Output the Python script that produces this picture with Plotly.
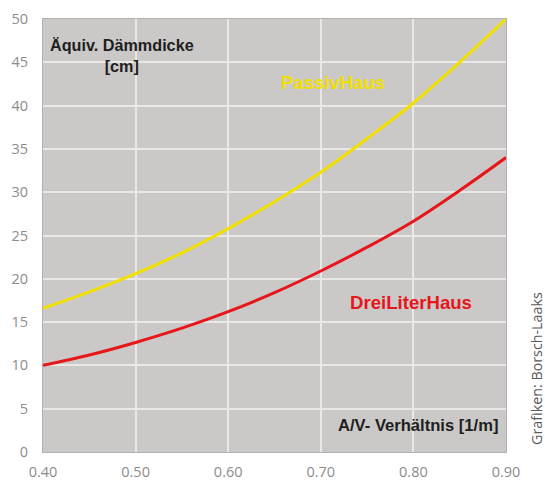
import plotly.graph_objects as go

# Data
av_ratio = [0.40, 0.45, 0.50, 0.55, 0.60, 0.65, 0.70, 0.75, 0.80, 0.85, 0.90]
passivhaus = [16.6, 18.5, 20.6, 23.0, 25.8, 28.9, 32.3, 36.2, 40.3, 45.0, 50.0]
dreiliterhaus = [10.0, 11.2, 12.65, 14.3, 16.2, 18.4, 20.9, 23.65, 26.65, 30.2, 34.0]

x_ticks = [0.40, 0.50, 0.60, 0.70, 0.80, 0.90]
x_ticktext = ["0.40", "0.50", "0.60", "0.70", "0.80", "0.90"]
y_ticks = [0, 5, 10, 15, 20, 25, 30, 35, 40, 45, 50]

BG = "#cbc9c8"
GRID = "#e9e8e7"
YELLOW = "#f2e000"
RED = "#e8161a"
DARK = "#1e1e1e"

W, H = 545, 482
L, R, T, B = 43, 38.5, 19, 30
PW, PH = W - L - R, H - T - B

def px(xp):
    return (xp - L) / PW

def py(yp):
    return (H - B - yp) / PH

fig = go.Figure()
fig.add_trace(go.Scatter(x=av_ratio, y=passivhaus, mode="lines",
                         line=dict(color=YELLOW, width=3, shape="spline"),
                         name="PassivHaus", hoverinfo="skip"))
fig.add_trace(go.Scatter(x=av_ratio, y=dreiliterhaus, mode="lines",
                         line=dict(color=RED, width=3, shape="spline"),
                         name="DreiLiterHaus", hoverinfo="skip"))

tickfont = dict(family="Open Sans", size=14.5, color="#8c8c8c")

fig.update_layout(
    width=W, height=H,
    margin=dict(l=L, r=R, t=T, b=B),
    paper_bgcolor="white",
    plot_bgcolor=BG,
    showlegend=False,
    xaxis=dict(range=[0.40, 0.90], tickvals=x_ticks, ticktext=x_ticktext,
               showgrid=True, gridcolor=GRID, gridwidth=2, automargin=False,
               zeroline=False, showline=True, linecolor="#b3b1b0", linewidth=1,
               mirror=True, ticks="", ticklabelstandoff=7, tickfont=tickfont,
               fixedrange=True),
    yaxis=dict(range=[0, 50], tickvals=y_ticks,
               showgrid=True, gridcolor=GRID, gridwidth=2, automargin=False,
               zeroline=False, showline=True, linecolor="#b3b1b0", linewidth=1,
               mirror=True, ticks="", ticklabelstandoff=11, tickfont=tickfont,
               fixedrange=True),
)

fig.add_annotation(x=px(122), y=py(55), xref="paper", yref="paper",
                   xanchor="center", yanchor="middle",
                   text="<b>Äquiv. Dämmdicke</b><br><b>[cm]</b>",
                   showarrow=False, align="center",
                   font=dict(family="Liberation Sans", size=16.2, color=DARK))
fig.add_annotation(x=0.713, y=42.7, xref="x", yref="y",
                   xanchor="center", yanchor="middle",
                   text="<b>PassivHaus</b>", showarrow=False,
                   font=dict(family="Liberation Sans", size=18.5, color=YELLOW))
fig.add_annotation(x=0.797, y=17.3, xref="x", yref="y",
                   xanchor="center", yanchor="middle",
                   text="<b>DreiLiterHaus</b>", showarrow=False,
                   font=dict(family="Liberation Sans", size=18.6, color=RED))
fig.add_annotation(x=0.90, y=3.1, xref="x", yref="y", xanchor="right",
                   yanchor="middle",
                   text="<b>A/V- Verhältnis [1/m]</b>", showarrow=False,
                   xshift=-6,
                   font=dict(family="Liberation Sans", size=16.6, color=DARK))
fig.add_annotation(x=px(536.5), y=py(368), xref="paper", yref="paper",
                   xanchor="center", yanchor="middle",
                   text="Grafiken: Borsch-Laaks", showarrow=False, textangle=-90,
                   font=dict(family="Open Sans", size=14.3, color="#5a5a5a"))

fig.write_html(
    "out.html",
    config={"displayModeBar": False},
    post_script="document.body.style.margin='0';document.body.style.overflow='hidden';",
)
